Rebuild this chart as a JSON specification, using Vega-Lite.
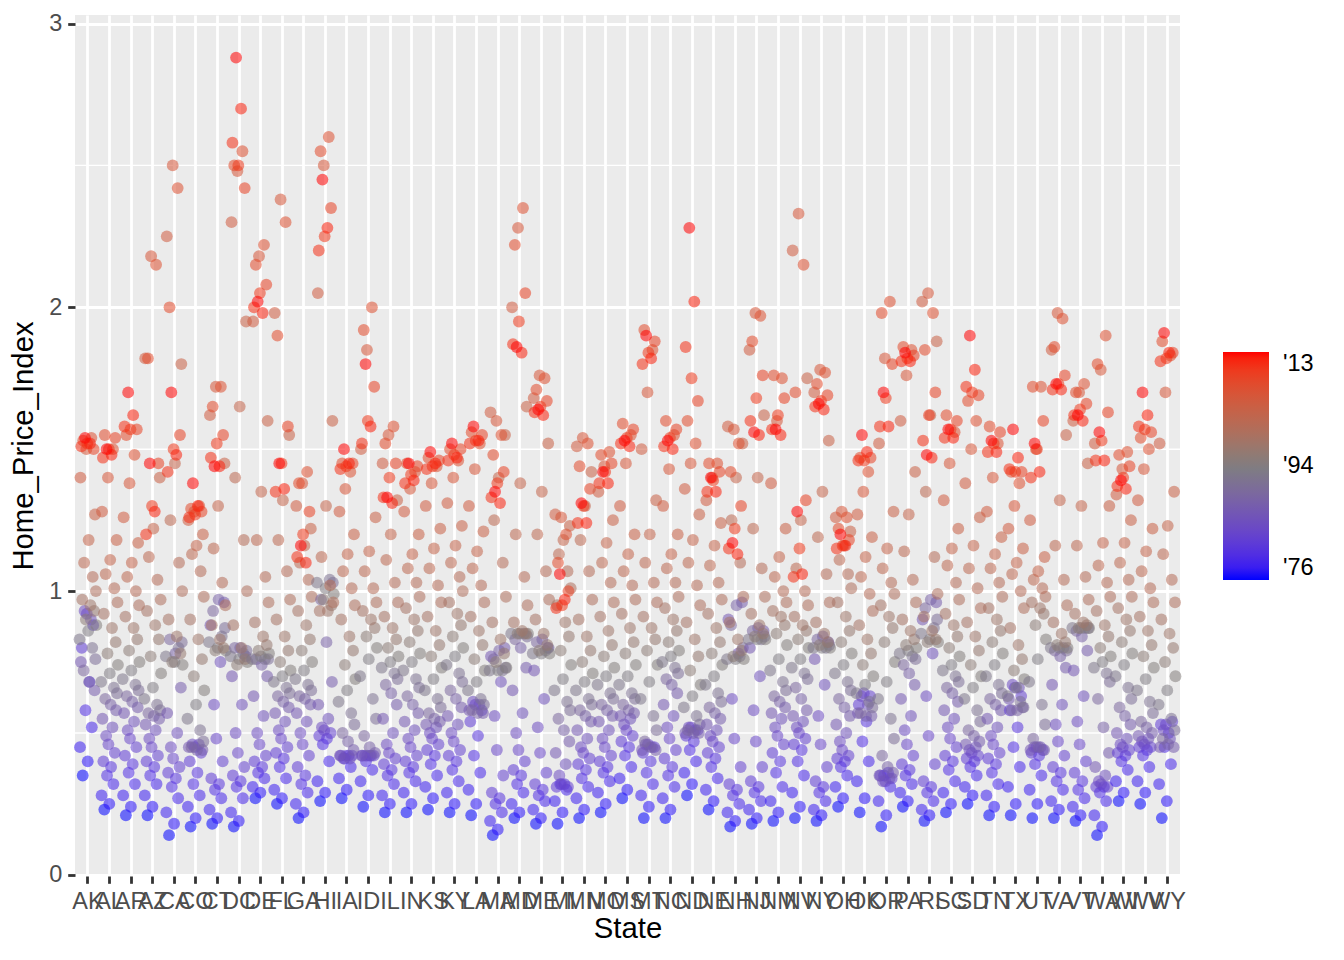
{
"$schema": "https://vega.github.io/schema/vega-lite/v6.json",
"autosize": {"type": "none"},
"padding": {"left": 75, "top": 15, "right": 164, "bottom": 84},
"width": 1105,
"height": 861,
"background": "white",
"config": {
  "view": {"fill": "#EBEBEB", "stroke": null},
  "font": "Liberation Sans",
  "axis": {"domain": false, "gridColor": "white", "gridWidth": 2.8, "tickColor": "#333333", "tickWidth": 2.8, "tickSize": 7.3, "labelColor": "#4D4D4D", "labelFontSize": 23.5, "labelFont": "Liberation Sans", "labelPadding": 5.9, "titleFont": "Liberation Sans", "titleFontSize": 29.3, "titleFontWeight": "normal", "titleColor": "black"},
  "legend": {"labelFontSize": 23.5, "labelColor": "black", "labelFont": "Liberation Sans", "labelOffset": 14, "gradientStrokeWidth": 0, "gradientLength": 228, "gradientThickness": 46}
},
"layer": [
  {
    "data": {"values": [{"g": 0.5}, {"g": 1.5}, {"g": 2.5}]},
    "mark": {"type": "rule", "color": "white", "strokeWidth": 1.4},
    "encoding": {
      "y": {"field": "g", "type": "quantitative", "scale": {"domain": [-0.004, 3.03], "nice": false, "zero": false}, "axis": {"title": "Home_Price_Index", "values": [0, 1, 2, 3], "grid": true, "titlePadding": 10}}
    }
  },
  {
    "data": {"values": [
{"s":"AK","t":1976,"v":0.35},{"s":"AK","t":1977,"v":0.40},{"s":"AK","t":1978,"v":0.45},{"s":"AK","t":1979,"v":0.52},{"s":"AK","t":1980,"v":0.58},{"s":"AK","t":1981,"v":0.68},{"s":"AK","t":1982,"v":0.80},{"s":"AK","t":1983,"v":0.88},{"s":"AK","t":1984,"v":0.92},{"s":"AK","t":1985,"v":0.93},{"s":"AK","t":1986,"v":0.90},{"s":"AK","t":1987,"v":0.75},{"s":"AK","t":1988,"v":0.65},{"s":"AK","t":1989,"v":0.68},{"s":"AK","t":1990,"v":0.72},{"s":"AK","t":1991,"v":0.76},{"s":"AK","t":1992,"v":0.80},{"s":"AK","t":1993,"v":0.83},{"s":"AK","t":1994,"v":0.86},{"s":"AK","t":1995,"v":0.88},{"s":"AK","t":1996,"v":0.90},{"s":"AK","t":1997,"v":0.93},{"s":"AK","t":1998,"v":0.95},{"s":"AK","t":1999,"v":0.97},{"s":"AK","t":2000,"v":1.00},{"s":"AK","t":2001,"v":1.05},{"s":"AK","t":2002,"v":1.10},{"s":"AK","t":2003,"v":1.18},{"s":"AK","t":2004,"v":1.27},{"s":"AK","t":2005,"v":1.40},{"s":"AK","t":2006,"v":1.50},{"s":"AK","t":2007,"v":1.54},{"s":"AK","t":2008,"v":1.53},{"s":"AK","t":2009,"v":1.50},{"s":"AK","t":2010,"v":1.52},{"s":"AK","t":2011,"v":1.51},{"s":"AK","t":2012,"v":1.52},{"s":"AK","t":2013,"v":1.54},
{"s":"AL","t":1976,"v":0.23},{"s":"AL","t":1977,"v":0.25},{"s":"AL","t":1978,"v":0.28},{"s":"AL","t":1979,"v":0.32},{"s":"AL","t":1980,"v":0.35},{"s":"AL","t":1981,"v":0.38},{"s":"AL","t":1982,"v":0.40},{"s":"AL","t":1983,"v":0.43},{"s":"AL","t":1984,"v":0.46},{"s":"AL","t":1985,"v":0.49},{"s":"AL","t":1986,"v":0.52},{"s":"AL","t":1987,"v":0.55},{"s":"AL","t":1988,"v":0.58},{"s":"AL","t":1989,"v":0.60},{"s":"AL","t":1990,"v":0.62},{"s":"AL","t":1991,"v":0.64},{"s":"AL","t":1992,"v":0.66},{"s":"AL","t":1993,"v":0.68},{"s":"AL","t":1994,"v":0.71},{"s":"AL","t":1995,"v":0.74},{"s":"AL","t":1996,"v":0.78},{"s":"AL","t":1997,"v":0.82},{"s":"AL","t":1998,"v":0.87},{"s":"AL","t":1999,"v":0.92},{"s":"AL","t":2000,"v":0.96},{"s":"AL","t":2001,"v":1.01},{"s":"AL","t":2002,"v":1.06},{"s":"AL","t":2003,"v":1.11},{"s":"AL","t":2004,"v":1.18},{"s":"AL","t":2005,"v":1.28},{"s":"AL","t":2006,"v":1.40},{"s":"AL","t":2007,"v":1.50},{"s":"AL","t":2008,"v":1.55},{"s":"AL","t":2009,"v":1.54},{"s":"AL","t":2010,"v":1.50},{"s":"AL","t":2011,"v":1.47},{"s":"AL","t":2012,"v":1.48},{"s":"AL","t":2013,"v":1.50},
{"s":"AR","t":1976,"v":0.21},{"s":"AR","t":1977,"v":0.24},{"s":"AR","t":1978,"v":0.28},{"s":"AR","t":1979,"v":0.32},{"s":"AR","t":1980,"v":0.36},{"s":"AR","t":1981,"v":0.39},{"s":"AR","t":1982,"v":0.42},{"s":"AR","t":1983,"v":0.45},{"s":"AR","t":1984,"v":0.48},{"s":"AR","t":1985,"v":0.51},{"s":"AR","t":1986,"v":0.54},{"s":"AR","t":1987,"v":0.57},{"s":"AR","t":1988,"v":0.59},{"s":"AR","t":1989,"v":0.61},{"s":"AR","t":1990,"v":0.63},{"s":"AR","t":1991,"v":0.65},{"s":"AR","t":1992,"v":0.67},{"s":"AR","t":1993,"v":0.69},{"s":"AR","t":1994,"v":0.72},{"s":"AR","t":1995,"v":0.75},{"s":"AR","t":1996,"v":0.79},{"s":"AR","t":1997,"v":0.83},{"s":"AR","t":1998,"v":0.87},{"s":"AR","t":1999,"v":0.91},{"s":"AR","t":2000,"v":0.95},{"s":"AR","t":2001,"v":1.00},{"s":"AR","t":2002,"v":1.05},{"s":"AR","t":2003,"v":1.10},{"s":"AR","t":2004,"v":1.17},{"s":"AR","t":2005,"v":1.26},{"s":"AR","t":2006,"v":1.38},{"s":"AR","t":2007,"v":1.48},{"s":"AR","t":2008,"v":1.55},{"s":"AR","t":2009,"v":1.57},{"s":"AR","t":2010,"v":1.57},{"s":"AR","t":2011,"v":1.58},{"s":"AR","t":2012,"v":1.62},{"s":"AR","t":2013,"v":1.70},
{"s":"AZ","t":1976,"v":0.21},{"s":"AZ","t":1977,"v":0.24},{"s":"AZ","t":1978,"v":0.28},{"s":"AZ","t":1979,"v":0.32},{"s":"AZ","t":1980,"v":0.35},{"s":"AZ","t":1981,"v":0.38},{"s":"AZ","t":1982,"v":0.40},{"s":"AZ","t":1983,"v":0.42},{"s":"AZ","t":1984,"v":0.45},{"s":"AZ","t":1985,"v":0.48},{"s":"AZ","t":1986,"v":0.51},{"s":"AZ","t":1987,"v":0.53},{"s":"AZ","t":1988,"v":0.55},{"s":"AZ","t":1989,"v":0.56},{"s":"AZ","t":1990,"v":0.57},{"s":"AZ","t":1991,"v":0.58},{"s":"AZ","t":1992,"v":0.60},{"s":"AZ","t":1993,"v":0.62},{"s":"AZ","t":1994,"v":0.66},{"s":"AZ","t":1995,"v":0.71},{"s":"AZ","t":1996,"v":0.77},{"s":"AZ","t":1997,"v":0.83},{"s":"AZ","t":1998,"v":0.88},{"s":"AZ","t":1999,"v":0.93},{"s":"AZ","t":2000,"v":0.97},{"s":"AZ","t":2001,"v":1.04},{"s":"AZ","t":2002,"v":1.12},{"s":"AZ","t":2003,"v":1.22},{"s":"AZ","t":2004,"v":1.40},{"s":"AZ","t":2005,"v":1.82},{"s":"AZ","t":2006,"v":2.18},{"s":"AZ","t":2007,"v":2.15},{"s":"AZ","t":2008,"v":1.82},{"s":"AZ","t":2009,"v":1.45},{"s":"AZ","t":2010,"v":1.30},{"s":"AZ","t":2011,"v":1.20},{"s":"AZ","t":2012,"v":1.28},{"s":"AZ","t":2013,"v":1.45},
{"s":"CA","t":1976,"v":0.14},{"s":"CA","t":1977,"v":0.18},{"s":"CA","t":1978,"v":0.22},{"s":"CA","t":1979,"v":0.27},{"s":"CA","t":1980,"v":0.31},{"s":"CA","t":1981,"v":0.34},{"s":"CA","t":1982,"v":0.36},{"s":"CA","t":1983,"v":0.38},{"s":"CA","t":1984,"v":0.41},{"s":"CA","t":1985,"v":0.45},{"s":"CA","t":1986,"v":0.50},{"s":"CA","t":1987,"v":0.57},{"s":"CA","t":1988,"v":0.66},{"s":"CA","t":1989,"v":0.78},{"s":"CA","t":1990,"v":0.83},{"s":"CA","t":1991,"v":0.82},{"s":"CA","t":1992,"v":0.80},{"s":"CA","t":1993,"v":0.77},{"s":"CA","t":1994,"v":0.75},{"s":"CA","t":1995,"v":0.74},{"s":"CA","t":1996,"v":0.75},{"s":"CA","t":1997,"v":0.78},{"s":"CA","t":1998,"v":0.84},{"s":"CA","t":1999,"v":0.90},{"s":"CA","t":2000,"v":1.00},{"s":"CA","t":2001,"v":1.10},{"s":"CA","t":2002,"v":1.25},{"s":"CA","t":2003,"v":1.45},{"s":"CA","t":2004,"v":1.80},{"s":"CA","t":2005,"v":2.25},{"s":"CA","t":2006,"v":2.50},{"s":"CA","t":2007,"v":2.42},{"s":"CA","t":2008,"v":2.00},{"s":"CA","t":2009,"v":1.55},{"s":"CA","t":2010,"v":1.50},{"s":"CA","t":2011,"v":1.42},{"s":"CA","t":2012,"v":1.48},{"s":"CA","t":2013,"v":1.70},
{"s":"CO","t":1976,"v":0.17},{"s":"CO","t":1977,"v":0.20},{"s":"CO","t":1978,"v":0.24},{"s":"CO","t":1979,"v":0.28},{"s":"CO","t":1980,"v":0.32},{"s":"CO","t":1981,"v":0.36},{"s":"CO","t":1982,"v":0.40},{"s":"CO","t":1983,"v":0.43},{"s":"CO","t":1984,"v":0.45},{"s":"CO","t":1985,"v":0.46},{"s":"CO","t":1986,"v":0.46},{"s":"CO","t":1987,"v":0.45},{"s":"CO","t":1988,"v":0.44},{"s":"CO","t":1989,"v":0.44},{"s":"CO","t":1990,"v":0.45},{"s":"CO","t":1991,"v":0.47},{"s":"CO","t":1992,"v":0.51},{"s":"CO","t":1993,"v":0.55},{"s":"CO","t":1994,"v":0.60},{"s":"CO","t":1995,"v":0.65},{"s":"CO","t":1996,"v":0.70},{"s":"CO","t":1997,"v":0.76},{"s":"CO","t":1998,"v":0.83},{"s":"CO","t":1999,"v":0.90},{"s":"CO","t":2000,"v":0.98},{"s":"CO","t":2001,"v":1.07},{"s":"CO","t":2002,"v":1.13},{"s":"CO","t":2003,"v":1.16},{"s":"CO","t":2004,"v":1.20},{"s":"CO","t":2005,"v":1.25},{"s":"CO","t":2006,"v":1.28},{"s":"CO","t":2007,"v":1.30},{"s":"CO","t":2008,"v":1.29},{"s":"CO","t":2009,"v":1.28},{"s":"CO","t":2010,"v":1.27},{"s":"CO","t":2011,"v":1.26},{"s":"CO","t":2012,"v":1.30},{"s":"CO","t":2013,"v":1.38},
{"s":"CT","t":1976,"v":0.18},{"s":"CT","t":1977,"v":0.20},{"s":"CT","t":1978,"v":0.23},{"s":"CT","t":1979,"v":0.27},{"s":"CT","t":1980,"v":0.30},{"s":"CT","t":1981,"v":0.32},{"s":"CT","t":1982,"v":0.34},{"s":"CT","t":1983,"v":0.40},{"s":"CT","t":1984,"v":0.48},{"s":"CT","t":1985,"v":0.60},{"s":"CT","t":1986,"v":0.75},{"s":"CT","t":1987,"v":0.88},{"s":"CT","t":1988,"v":0.96},{"s":"CT","t":1989,"v":0.97},{"s":"CT","t":1990,"v":0.93},{"s":"CT","t":1991,"v":0.87},{"s":"CT","t":1992,"v":0.84},{"s":"CT","t":1993,"v":0.82},{"s":"CT","t":1994,"v":0.80},{"s":"CT","t":1995,"v":0.79},{"s":"CT","t":1996,"v":0.79},{"s":"CT","t":1997,"v":0.80},{"s":"CT","t":1998,"v":0.83},{"s":"CT","t":1999,"v":0.88},{"s":"CT","t":2000,"v":0.95},{"s":"CT","t":2001,"v":1.03},{"s":"CT","t":2002,"v":1.15},{"s":"CT","t":2003,"v":1.30},{"s":"CT","t":2004,"v":1.45},{"s":"CT","t":2005,"v":1.62},{"s":"CT","t":2006,"v":1.72},{"s":"CT","t":2007,"v":1.72},{"s":"CT","t":2008,"v":1.65},{"s":"CT","t":2009,"v":1.55},{"s":"CT","t":2010,"v":1.52},{"s":"CT","t":2011,"v":1.47},{"s":"CT","t":2012,"v":1.44},{"s":"CT","t":2013,"v":1.44},
{"s":"DC","t":1976,"v":0.17},{"s":"DC","t":1977,"v":0.19},{"s":"DC","t":1978,"v":0.22},{"s":"DC","t":1979,"v":0.27},{"s":"DC","t":1980,"v":0.31},{"s":"DC","t":1981,"v":0.33},{"s":"DC","t":1982,"v":0.35},{"s":"DC","t":1983,"v":0.38},{"s":"DC","t":1984,"v":0.43},{"s":"DC","t":1985,"v":0.50},{"s":"DC","t":1986,"v":0.60},{"s":"DC","t":1987,"v":0.70},{"s":"DC","t":1988,"v":0.77},{"s":"DC","t":1989,"v":0.80},{"s":"DC","t":1990,"v":0.80},{"s":"DC","t":1991,"v":0.79},{"s":"DC","t":1992,"v":0.78},{"s":"DC","t":1993,"v":0.77},{"s":"DC","t":1994,"v":0.76},{"s":"DC","t":1995,"v":0.75},{"s":"DC","t":1996,"v":0.74},{"s":"DC","t":1997,"v":0.76},{"s":"DC","t":1998,"v":0.80},{"s":"DC","t":1999,"v":0.88},{"s":"DC","t":2000,"v":1.00},{"s":"DC","t":2001,"v":1.18},{"s":"DC","t":2002,"v":1.40},{"s":"DC","t":2003,"v":1.65},{"s":"DC","t":2004,"v":1.95},{"s":"DC","t":2005,"v":2.30},{"s":"DC","t":2006,"v":2.48},{"s":"DC","t":2007,"v":2.55},{"s":"DC","t":2008,"v":2.50},{"s":"DC","t":2009,"v":2.42},{"s":"DC","t":2010,"v":2.50},{"s":"DC","t":2011,"v":2.58},{"s":"DC","t":2012,"v":2.70},{"s":"DC","t":2013,"v":2.88},
{"s":"DE","t":1976,"v":0.27},{"s":"DE","t":1977,"v":0.29},{"s":"DE","t":1978,"v":0.31},{"s":"DE","t":1979,"v":0.34},{"s":"DE","t":1980,"v":0.36},{"s":"DE","t":1981,"v":0.38},{"s":"DE","t":1982,"v":0.40},{"s":"DE","t":1983,"v":0.42},{"s":"DE","t":1984,"v":0.46},{"s":"DE","t":1985,"v":0.50},{"s":"DE","t":1986,"v":0.56},{"s":"DE","t":1987,"v":0.63},{"s":"DE","t":1988,"v":0.70},{"s":"DE","t":1989,"v":0.74},{"s":"DE","t":1990,"v":0.76},{"s":"DE","t":1991,"v":0.76},{"s":"DE","t":1992,"v":0.76},{"s":"DE","t":1993,"v":0.76},{"s":"DE","t":1994,"v":0.77},{"s":"DE","t":1995,"v":0.78},{"s":"DE","t":1996,"v":0.79},{"s":"DE","t":1997,"v":0.81},{"s":"DE","t":1998,"v":0.84},{"s":"DE","t":1999,"v":0.89},{"s":"DE","t":2000,"v":0.96},{"s":"DE","t":2001,"v":1.05},{"s":"DE","t":2002,"v":1.18},{"s":"DE","t":2003,"v":1.35},{"s":"DE","t":2004,"v":1.60},{"s":"DE","t":2005,"v":1.95},{"s":"DE","t":2006,"v":2.18},{"s":"DE","t":2007,"v":2.22},{"s":"DE","t":2008,"v":2.15},{"s":"DE","t":2009,"v":2.08},{"s":"DE","t":2010,"v":2.05},{"s":"DE","t":2011,"v":2.00},{"s":"DE","t":2012,"v":1.98},{"s":"DE","t":2013,"v":2.02},
{"s":"FL","t":1976,"v":0.25},{"s":"FL","t":1977,"v":0.27},{"s":"FL","t":1978,"v":0.30},{"s":"FL","t":1979,"v":0.34},{"s":"FL","t":1980,"v":0.38},{"s":"FL","t":1981,"v":0.41},{"s":"FL","t":1982,"v":0.43},{"s":"FL","t":1983,"v":0.45},{"s":"FL","t":1984,"v":0.48},{"s":"FL","t":1985,"v":0.51},{"s":"FL","t":1986,"v":0.54},{"s":"FL","t":1987,"v":0.57},{"s":"FL","t":1988,"v":0.59},{"s":"FL","t":1989,"v":0.61},{"s":"FL","t":1990,"v":0.63},{"s":"FL","t":1991,"v":0.64},{"s":"FL","t":1992,"v":0.66},{"s":"FL","t":1993,"v":0.68},{"s":"FL","t":1994,"v":0.70},{"s":"FL","t":1995,"v":0.72},{"s":"FL","t":1996,"v":0.75},{"s":"FL","t":1997,"v":0.79},{"s":"FL","t":1998,"v":0.84},{"s":"FL","t":1999,"v":0.90},{"s":"FL","t":2000,"v":0.97},{"s":"FL","t":2001,"v":1.07},{"s":"FL","t":2002,"v":1.18},{"s":"FL","t":2003,"v":1.32},{"s":"FL","t":2004,"v":1.55},{"s":"FL","t":2005,"v":1.98},{"s":"FL","t":2006,"v":2.38},{"s":"FL","t":2007,"v":2.30},{"s":"FL","t":2008,"v":1.90},{"s":"FL","t":2009,"v":1.58},{"s":"FL","t":2010,"v":1.45},{"s":"FL","t":2011,"v":1.35},{"s":"FL","t":2012,"v":1.36},{"s":"FL","t":2013,"v":1.45},
{"s":"GA","t":1976,"v":0.20},{"s":"GA","t":1977,"v":0.22},{"s":"GA","t":1978,"v":0.25},{"s":"GA","t":1979,"v":0.29},{"s":"GA","t":1980,"v":0.32},{"s":"GA","t":1981,"v":0.35},{"s":"GA","t":1982,"v":0.38},{"s":"GA","t":1983,"v":0.42},{"s":"GA","t":1984,"v":0.46},{"s":"GA","t":1985,"v":0.50},{"s":"GA","t":1986,"v":0.54},{"s":"GA","t":1987,"v":0.57},{"s":"GA","t":1988,"v":0.60},{"s":"GA","t":1989,"v":0.62},{"s":"GA","t":1990,"v":0.63},{"s":"GA","t":1991,"v":0.65},{"s":"GA","t":1992,"v":0.67},{"s":"GA","t":1993,"v":0.69},{"s":"GA","t":1994,"v":0.72},{"s":"GA","t":1995,"v":0.75},{"s":"GA","t":1996,"v":0.79},{"s":"GA","t":1997,"v":0.83},{"s":"GA","t":1998,"v":0.88},{"s":"GA","t":1999,"v":0.93},{"s":"GA","t":2000,"v":0.98},{"s":"GA","t":2001,"v":1.04},{"s":"GA","t":2002,"v":1.10},{"s":"GA","t":2003,"v":1.16},{"s":"GA","t":2004,"v":1.22},{"s":"GA","t":2005,"v":1.30},{"s":"GA","t":2006,"v":1.38},{"s":"GA","t":2007,"v":1.42},{"s":"GA","t":2008,"v":1.38},{"s":"GA","t":2009,"v":1.28},{"s":"GA","t":2010,"v":1.20},{"s":"GA","t":2011,"v":1.12},{"s":"GA","t":2012,"v":1.10},{"s":"GA","t":2013,"v":1.16},
{"s":"HI","t":1976,"v":0.26},{"s":"HI","t":1977,"v":0.29},{"s":"HI","t":1978,"v":0.33},{"s":"HI","t":1979,"v":0.40},{"s":"HI","t":1980,"v":0.46},{"s":"HI","t":1981,"v":0.48},{"s":"HI","t":1982,"v":0.49},{"s":"HI","t":1983,"v":0.50},{"s":"HI","t":1984,"v":0.51},{"s":"HI","t":1985,"v":0.52},{"s":"HI","t":1986,"v":0.55},{"s":"HI","t":1987,"v":0.60},{"s":"HI","t":1988,"v":0.68},{"s":"HI","t":1989,"v":0.82},{"s":"HI","t":1990,"v":0.97},{"s":"HI","t":1991,"v":1.03},{"s":"HI","t":1992,"v":1.04},{"s":"HI","t":1993,"v":1.03},{"s":"HI","t":1994,"v":1.01},{"s":"HI","t":1995,"v":0.99},{"s":"HI","t":1996,"v":0.97},{"s":"HI","t":1997,"v":0.95},{"s":"HI","t":1998,"v":0.93},{"s":"HI","t":1999,"v":0.93},{"s":"HI","t":2000,"v":0.96},{"s":"HI","t":2001,"v":1.02},{"s":"HI","t":2002,"v":1.12},{"s":"HI","t":2003,"v":1.30},{"s":"HI","t":2004,"v":1.60},{"s":"HI","t":2005,"v":2.05},{"s":"HI","t":2006,"v":2.50},{"s":"HI","t":2007,"v":2.60},{"s":"HI","t":2008,"v":2.55},{"s":"HI","t":2009,"v":2.35},{"s":"HI","t":2010,"v":2.25},{"s":"HI","t":2011,"v":2.20},{"s":"HI","t":2012,"v":2.28},{"s":"HI","t":2013,"v":2.45},
{"s":"IA","t":1976,"v":0.27},{"s":"IA","t":1977,"v":0.30},{"s":"IA","t":1978,"v":0.34},{"s":"IA","t":1979,"v":0.38},{"s":"IA","t":1980,"v":0.41},{"s":"IA","t":1981,"v":0.42},{"s":"IA","t":1982,"v":0.42},{"s":"IA","t":1983,"v":0.42},{"s":"IA","t":1984,"v":0.42},{"s":"IA","t":1985,"v":0.41},{"s":"IA","t":1986,"v":0.41},{"s":"IA","t":1987,"v":0.42},{"s":"IA","t":1988,"v":0.44},{"s":"IA","t":1989,"v":0.47},{"s":"IA","t":1990,"v":0.50},{"s":"IA","t":1991,"v":0.53},{"s":"IA","t":1992,"v":0.57},{"s":"IA","t":1993,"v":0.61},{"s":"IA","t":1994,"v":0.65},{"s":"IA","t":1995,"v":0.69},{"s":"IA","t":1996,"v":0.74},{"s":"IA","t":1997,"v":0.79},{"s":"IA","t":1998,"v":0.84},{"s":"IA","t":1999,"v":0.90},{"s":"IA","t":2000,"v":0.95},{"s":"IA","t":2001,"v":1.01},{"s":"IA","t":2002,"v":1.07},{"s":"IA","t":2003,"v":1.13},{"s":"IA","t":2004,"v":1.20},{"s":"IA","t":2005,"v":1.28},{"s":"IA","t":2006,"v":1.36},{"s":"IA","t":2007,"v":1.42},{"s":"IA","t":2008,"v":1.45},{"s":"IA","t":2009,"v":1.45},{"s":"IA","t":2010,"v":1.44},{"s":"IA","t":2011,"v":1.43},{"s":"IA","t":2012,"v":1.45},{"s":"IA","t":2013,"v":1.50},
{"s":"ID","t":1976,"v":0.24},{"s":"ID","t":1977,"v":0.28},{"s":"ID","t":1978,"v":0.33},{"s":"ID","t":1979,"v":0.37},{"s":"ID","t":1980,"v":0.40},{"s":"ID","t":1981,"v":0.42},{"s":"ID","t":1982,"v":0.42},{"s":"ID","t":1983,"v":0.42},{"s":"ID","t":1984,"v":0.42},{"s":"ID","t":1985,"v":0.42},{"s":"ID","t":1986,"v":0.42},{"s":"ID","t":1987,"v":0.42},{"s":"ID","t":1988,"v":0.43},{"s":"ID","t":1989,"v":0.45},{"s":"ID","t":1990,"v":0.49},{"s":"ID","t":1991,"v":0.55},{"s":"ID","t":1992,"v":0.62},{"s":"ID","t":1993,"v":0.70},{"s":"ID","t":1994,"v":0.76},{"s":"ID","t":1995,"v":0.80},{"s":"ID","t":1996,"v":0.84},{"s":"ID","t":1997,"v":0.87},{"s":"ID","t":1998,"v":0.90},{"s":"ID","t":1999,"v":0.93},{"s":"ID","t":2000,"v":0.96},{"s":"ID","t":2001,"v":1.01},{"s":"ID","t":2002,"v":1.07},{"s":"ID","t":2003,"v":1.14},{"s":"ID","t":2004,"v":1.26},{"s":"ID","t":2005,"v":1.50},{"s":"ID","t":2006,"v":1.85},{"s":"ID","t":2007,"v":2.00},{"s":"ID","t":2008,"v":1.92},{"s":"ID","t":2009,"v":1.72},{"s":"ID","t":2010,"v":1.60},{"s":"ID","t":2011,"v":1.52},{"s":"ID","t":2012,"v":1.58},{"s":"ID","t":2013,"v":1.80},
{"s":"IL","t":1976,"v":0.22},{"s":"IL","t":1977,"v":0.25},{"s":"IL","t":1978,"v":0.28},{"s":"IL","t":1979,"v":0.32},{"s":"IL","t":1980,"v":0.35},{"s":"IL","t":1981,"v":0.37},{"s":"IL","t":1982,"v":0.39},{"s":"IL","t":1983,"v":0.41},{"s":"IL","t":1984,"v":0.43},{"s":"IL","t":1985,"v":0.46},{"s":"IL","t":1986,"v":0.50},{"s":"IL","t":1987,"v":0.55},{"s":"IL","t":1988,"v":0.60},{"s":"IL","t":1989,"v":0.64},{"s":"IL","t":1990,"v":0.67},{"s":"IL","t":1991,"v":0.69},{"s":"IL","t":1992,"v":0.71},{"s":"IL","t":1993,"v":0.73},{"s":"IL","t":1994,"v":0.75},{"s":"IL","t":1995,"v":0.77},{"s":"IL","t":1996,"v":0.80},{"s":"IL","t":1997,"v":0.83},{"s":"IL","t":1998,"v":0.87},{"s":"IL","t":1999,"v":0.91},{"s":"IL","t":2000,"v":0.96},{"s":"IL","t":2001,"v":1.03},{"s":"IL","t":2002,"v":1.11},{"s":"IL","t":2003,"v":1.20},{"s":"IL","t":2004,"v":1.32},{"s":"IL","t":2005,"v":1.45},{"s":"IL","t":2006,"v":1.55},{"s":"IL","t":2007,"v":1.58},{"s":"IL","t":2008,"v":1.52},{"s":"IL","t":2009,"v":1.45},{"s":"IL","t":2010,"v":1.40},{"s":"IL","t":2011,"v":1.33},{"s":"IL","t":2012,"v":1.31},{"s":"IL","t":2013,"v":1.33},
{"s":"IN","t":1976,"v":0.22},{"s":"IN","t":1977,"v":0.25},{"s":"IN","t":1978,"v":0.29},{"s":"IN","t":1979,"v":0.33},{"s":"IN","t":1980,"v":0.36},{"s":"IN","t":1981,"v":0.38},{"s":"IN","t":1982,"v":0.40},{"s":"IN","t":1983,"v":0.42},{"s":"IN","t":1984,"v":0.45},{"s":"IN","t":1985,"v":0.48},{"s":"IN","t":1986,"v":0.51},{"s":"IN","t":1987,"v":0.54},{"s":"IN","t":1988,"v":0.57},{"s":"IN","t":1989,"v":0.60},{"s":"IN","t":1990,"v":0.63},{"s":"IN","t":1991,"v":0.66},{"s":"IN","t":1992,"v":0.69},{"s":"IN","t":1993,"v":0.72},{"s":"IN","t":1994,"v":0.75},{"s":"IN","t":1995,"v":0.78},{"s":"IN","t":1996,"v":0.82},{"s":"IN","t":1997,"v":0.86},{"s":"IN","t":1998,"v":0.90},{"s":"IN","t":1999,"v":0.94},{"s":"IN","t":2000,"v":0.98},{"s":"IN","t":2001,"v":1.03},{"s":"IN","t":2002,"v":1.08},{"s":"IN","t":2003,"v":1.13},{"s":"IN","t":2004,"v":1.20},{"s":"IN","t":2005,"v":1.28},{"s":"IN","t":2006,"v":1.36},{"s":"IN","t":2007,"v":1.42},{"s":"IN","t":2008,"v":1.45},{"s":"IN","t":2009,"v":1.44},{"s":"IN","t":2010,"v":1.41},{"s":"IN","t":2011,"v":1.38},{"s":"IN","t":2012,"v":1.39},{"s":"IN","t":2013,"v":1.45},
{"s":"KS","t":1976,"v":0.23},{"s":"KS","t":1977,"v":0.27},{"s":"KS","t":1978,"v":0.31},{"s":"KS","t":1979,"v":0.35},{"s":"KS","t":1980,"v":0.39},{"s":"KS","t":1981,"v":0.42},{"s":"KS","t":1982,"v":0.44},{"s":"KS","t":1983,"v":0.46},{"s":"KS","t":1984,"v":0.48},{"s":"KS","t":1985,"v":0.50},{"s":"KS","t":1986,"v":0.52},{"s":"KS","t":1987,"v":0.53},{"s":"KS","t":1988,"v":0.54},{"s":"KS","t":1989,"v":0.55},{"s":"KS","t":1990,"v":0.57},{"s":"KS","t":1991,"v":0.59},{"s":"KS","t":1992,"v":0.62},{"s":"KS","t":1993,"v":0.65},{"s":"KS","t":1994,"v":0.69},{"s":"KS","t":1995,"v":0.73},{"s":"KS","t":1996,"v":0.77},{"s":"KS","t":1997,"v":0.81},{"s":"KS","t":1998,"v":0.86},{"s":"KS","t":1999,"v":0.91},{"s":"KS","t":2000,"v":0.96},{"s":"KS","t":2001,"v":1.02},{"s":"KS","t":2002,"v":1.08},{"s":"KS","t":2003,"v":1.15},{"s":"KS","t":2004,"v":1.22},{"s":"KS","t":2005,"v":1.30},{"s":"KS","t":2006,"v":1.38},{"s":"KS","t":2007,"v":1.44},{"s":"KS","t":2008,"v":1.47},{"s":"KS","t":2009,"v":1.46},{"s":"KS","t":2010,"v":1.44},{"s":"KS","t":2011,"v":1.43},{"s":"KS","t":2012,"v":1.45},{"s":"KS","t":2013,"v":1.49},
{"s":"KY","t":1976,"v":0.22},{"s":"KY","t":1977,"v":0.25},{"s":"KY","t":1978,"v":0.29},{"s":"KY","t":1979,"v":0.33},{"s":"KY","t":1980,"v":0.37},{"s":"KY","t":1981,"v":0.40},{"s":"KY","t":1982,"v":0.42},{"s":"KY","t":1983,"v":0.44},{"s":"KY","t":1984,"v":0.47},{"s":"KY","t":1985,"v":0.50},{"s":"KY","t":1986,"v":0.53},{"s":"KY","t":1987,"v":0.56},{"s":"KY","t":1988,"v":0.59},{"s":"KY","t":1989,"v":0.62},{"s":"KY","t":1990,"v":0.65},{"s":"KY","t":1991,"v":0.68},{"s":"KY","t":1992,"v":0.71},{"s":"KY","t":1993,"v":0.74},{"s":"KY","t":1994,"v":0.77},{"s":"KY","t":1995,"v":0.80},{"s":"KY","t":1996,"v":0.84},{"s":"KY","t":1997,"v":0.88},{"s":"KY","t":1998,"v":0.92},{"s":"KY","t":1999,"v":0.96},{"s":"KY","t":2000,"v":1.00},{"s":"KY","t":2001,"v":1.05},{"s":"KY","t":2002,"v":1.10},{"s":"KY","t":2003,"v":1.16},{"s":"KY","t":2004,"v":1.23},{"s":"KY","t":2005,"v":1.31},{"s":"KY","t":2006,"v":1.40},{"s":"KY","t":2007,"v":1.46},{"s":"KY","t":2008,"v":1.50},{"s":"KY","t":2009,"v":1.50},{"s":"KY","t":2010,"v":1.48},{"s":"KY","t":2011,"v":1.46},{"s":"KY","t":2012,"v":1.47},{"s":"KY","t":2013,"v":1.52},
{"s":"LA","t":1976,"v":0.21},{"s":"LA","t":1977,"v":0.25},{"s":"LA","t":1978,"v":0.30},{"s":"LA","t":1979,"v":0.36},{"s":"LA","t":1980,"v":0.42},{"s":"LA","t":1981,"v":0.49},{"s":"LA","t":1982,"v":0.54},{"s":"LA","t":1983,"v":0.58},{"s":"LA","t":1984,"v":0.60},{"s":"LA","t":1985,"v":0.61},{"s":"LA","t":1986,"v":0.60},{"s":"LA","t":1987,"v":0.58},{"s":"LA","t":1988,"v":0.57},{"s":"LA","t":1989,"v":0.57},{"s":"LA","t":1990,"v":0.58},{"s":"LA","t":1991,"v":0.60},{"s":"LA","t":1992,"v":0.62},{"s":"LA","t":1993,"v":0.65},{"s":"LA","t":1994,"v":0.68},{"s":"LA","t":1995,"v":0.72},{"s":"LA","t":1996,"v":0.76},{"s":"LA","t":1997,"v":0.81},{"s":"LA","t":1998,"v":0.86},{"s":"LA","t":1999,"v":0.91},{"s":"LA","t":2000,"v":0.96},{"s":"LA","t":2001,"v":1.02},{"s":"LA","t":2002,"v":1.08},{"s":"LA","t":2003,"v":1.14},{"s":"LA","t":2004,"v":1.21},{"s":"LA","t":2005,"v":1.30},{"s":"LA","t":2006,"v":1.43},{"s":"LA","t":2007,"v":1.52},{"s":"LA","t":2008,"v":1.56},{"s":"LA","t":2009,"v":1.55},{"s":"LA","t":2010,"v":1.53},{"s":"LA","t":2011,"v":1.52},{"s":"LA","t":2012,"v":1.53},{"s":"LA","t":2013,"v":1.58},
{"s":"MA","t":1976,"v":0.14},{"s":"MA","t":1977,"v":0.16},{"s":"MA","t":1978,"v":0.19},{"s":"MA","t":1979,"v":0.22},{"s":"MA","t":1980,"v":0.25},{"s":"MA","t":1981,"v":0.27},{"s":"MA","t":1982,"v":0.29},{"s":"MA","t":1983,"v":0.35},{"s":"MA","t":1984,"v":0.44},{"s":"MA","t":1985,"v":0.56},{"s":"MA","t":1986,"v":0.68},{"s":"MA","t":1987,"v":0.77},{"s":"MA","t":1988,"v":0.80},{"s":"MA","t":1989,"v":0.79},{"s":"MA","t":1990,"v":0.76},{"s":"MA","t":1991,"v":0.73},{"s":"MA","t":1992,"v":0.72},{"s":"MA","t":1993,"v":0.72},{"s":"MA","t":1994,"v":0.72},{"s":"MA","t":1995,"v":0.73},{"s":"MA","t":1996,"v":0.75},{"s":"MA","t":1997,"v":0.78},{"s":"MA","t":1998,"v":0.83},{"s":"MA","t":1999,"v":0.89},{"s":"MA","t":2000,"v":0.98},{"s":"MA","t":2001,"v":1.10},{"s":"MA","t":2002,"v":1.25},{"s":"MA","t":2003,"v":1.40},{"s":"MA","t":2004,"v":1.55},{"s":"MA","t":2005,"v":1.63},{"s":"MA","t":2006,"v":1.60},{"s":"MA","t":2007,"v":1.55},{"s":"MA","t":2008,"v":1.48},{"s":"MA","t":2009,"v":1.42},{"s":"MA","t":2010,"v":1.38},{"s":"MA","t":2011,"v":1.33},{"s":"MA","t":2012,"v":1.31},{"s":"MA","t":2013,"v":1.35},
{"s":"MD","t":1976,"v":0.20},{"s":"MD","t":1977,"v":0.22},{"s":"MD","t":1978,"v":0.25},{"s":"MD","t":1979,"v":0.29},{"s":"MD","t":1980,"v":0.32},{"s":"MD","t":1981,"v":0.35},{"s":"MD","t":1982,"v":0.37},{"s":"MD","t":1983,"v":0.40},{"s":"MD","t":1984,"v":0.44},{"s":"MD","t":1985,"v":0.50},{"s":"MD","t":1986,"v":0.57},{"s":"MD","t":1987,"v":0.65},{"s":"MD","t":1988,"v":0.73},{"s":"MD","t":1989,"v":0.80},{"s":"MD","t":1990,"v":0.83},{"s":"MD","t":1991,"v":0.84},{"s":"MD","t":1992,"v":0.85},{"s":"MD","t":1993,"v":0.85},{"s":"MD","t":1994,"v":0.85},{"s":"MD","t":1995,"v":0.85},{"s":"MD","t":1996,"v":0.85},{"s":"MD","t":1997,"v":0.85},{"s":"MD","t":1998,"v":0.86},{"s":"MD","t":1999,"v":0.89},{"s":"MD","t":2000,"v":0.95},{"s":"MD","t":2001,"v":1.05},{"s":"MD","t":2002,"v":1.20},{"s":"MD","t":2003,"v":1.38},{"s":"MD","t":2004,"v":1.65},{"s":"MD","t":2005,"v":2.00},{"s":"MD","t":2006,"v":2.28},{"s":"MD","t":2007,"v":2.35},{"s":"MD","t":2008,"v":2.22},{"s":"MD","t":2009,"v":2.05},{"s":"MD","t":2010,"v":1.95},{"s":"MD","t":2011,"v":1.87},{"s":"MD","t":2012,"v":1.84},{"s":"MD","t":2013,"v":1.86},
{"s":"ME","t":1976,"v":0.18},{"s":"ME","t":1977,"v":0.20},{"s":"ME","t":1978,"v":0.23},{"s":"ME","t":1979,"v":0.26},{"s":"ME","t":1980,"v":0.28},{"s":"ME","t":1981,"v":0.30},{"s":"ME","t":1982,"v":0.32},{"s":"ME","t":1983,"v":0.36},{"s":"ME","t":1984,"v":0.43},{"s":"ME","t":1985,"v":0.52},{"s":"ME","t":1986,"v":0.62},{"s":"ME","t":1987,"v":0.72},{"s":"ME","t":1988,"v":0.80},{"s":"ME","t":1989,"v":0.83},{"s":"ME","t":1990,"v":0.82},{"s":"ME","t":1991,"v":0.80},{"s":"ME","t":1992,"v":0.79},{"s":"ME","t":1993,"v":0.78},{"s":"ME","t":1994,"v":0.78},{"s":"ME","t":1995,"v":0.78},{"s":"ME","t":1996,"v":0.79},{"s":"ME","t":1997,"v":0.81},{"s":"ME","t":1998,"v":0.85},{"s":"ME","t":1999,"v":0.90},{"s":"ME","t":2000,"v":0.97},{"s":"ME","t":2001,"v":1.07},{"s":"ME","t":2002,"v":1.20},{"s":"ME","t":2003,"v":1.35},{"s":"ME","t":2004,"v":1.52},{"s":"ME","t":2005,"v":1.68},{"s":"ME","t":2006,"v":1.76},{"s":"ME","t":2007,"v":1.75},{"s":"ME","t":2008,"v":1.71},{"s":"ME","t":2009,"v":1.67},{"s":"ME","t":2010,"v":1.65},{"s":"ME","t":2011,"v":1.63},{"s":"ME","t":2012,"v":1.62},{"s":"ME","t":2013,"v":1.64},
{"s":"MI","t":1976,"v":0.18},{"s":"MI","t":1977,"v":0.22},{"s":"MI","t":1978,"v":0.26},{"s":"MI","t":1979,"v":0.30},{"s":"MI","t":1980,"v":0.32},{"s":"MI","t":1981,"v":0.32},{"s":"MI","t":1982,"v":0.31},{"s":"MI","t":1983,"v":0.31},{"s":"MI","t":1984,"v":0.32},{"s":"MI","t":1985,"v":0.35},{"s":"MI","t":1986,"v":0.39},{"s":"MI","t":1987,"v":0.43},{"s":"MI","t":1988,"v":0.47},{"s":"MI","t":1989,"v":0.51},{"s":"MI","t":1990,"v":0.55},{"s":"MI","t":1991,"v":0.58},{"s":"MI","t":1992,"v":0.61},{"s":"MI","t":1993,"v":0.65},{"s":"MI","t":1994,"v":0.69},{"s":"MI","t":1995,"v":0.74},{"s":"MI","t":1996,"v":0.79},{"s":"MI","t":1997,"v":0.84},{"s":"MI","t":1998,"v":0.89},{"s":"MI","t":1999,"v":0.95},{"s":"MI","t":2000,"v":1.01},{"s":"MI","t":2001,"v":1.07},{"s":"MI","t":2002,"v":1.13},{"s":"MI","t":2003,"v":1.18},{"s":"MI","t":2004,"v":1.23},{"s":"MI","t":2005,"v":1.27},{"s":"MI","t":2006,"v":1.26},{"s":"MI","t":2007,"v":1.20},{"s":"MI","t":2008,"v":1.10},{"s":"MI","t":2009,"v":1.00},{"s":"MI","t":2010,"v":0.95},{"s":"MI","t":2011,"v":0.94},{"s":"MI","t":2012,"v":0.97},{"s":"MI","t":2013,"v":1.06},
{"s":"MN","t":1976,"v":0.20},{"s":"MN","t":1977,"v":0.23},{"s":"MN","t":1978,"v":0.27},{"s":"MN","t":1979,"v":0.31},{"s":"MN","t":1980,"v":0.34},{"s":"MN","t":1981,"v":0.37},{"s":"MN","t":1982,"v":0.39},{"s":"MN","t":1983,"v":0.41},{"s":"MN","t":1984,"v":0.43},{"s":"MN","t":1985,"v":0.45},{"s":"MN","t":1986,"v":0.48},{"s":"MN","t":1987,"v":0.51},{"s":"MN","t":1988,"v":0.54},{"s":"MN","t":1989,"v":0.56},{"s":"MN","t":1990,"v":0.58},{"s":"MN","t":1991,"v":0.60},{"s":"MN","t":1992,"v":0.62},{"s":"MN","t":1993,"v":0.65},{"s":"MN","t":1994,"v":0.68},{"s":"MN","t":1995,"v":0.71},{"s":"MN","t":1996,"v":0.75},{"s":"MN","t":1997,"v":0.79},{"s":"MN","t":1998,"v":0.84},{"s":"MN","t":1999,"v":0.90},{"s":"MN","t":2000,"v":0.97},{"s":"MN","t":2001,"v":1.07},{"s":"MN","t":2002,"v":1.18},{"s":"MN","t":2003,"v":1.30},{"s":"MN","t":2004,"v":1.42},{"s":"MN","t":2005,"v":1.51},{"s":"MN","t":2006,"v":1.54},{"s":"MN","t":2007,"v":1.52},{"s":"MN","t":2008,"v":1.44},{"s":"MN","t":2009,"v":1.36},{"s":"MN","t":2010,"v":1.30},{"s":"MN","t":2011,"v":1.24},{"s":"MN","t":2012,"v":1.24},{"s":"MN","t":2013,"v":1.31},
{"s":"MO","t":1976,"v":0.22},{"s":"MO","t":1977,"v":0.25},{"s":"MO","t":1978,"v":0.29},{"s":"MO","t":1979,"v":0.33},{"s":"MO","t":1980,"v":0.36},{"s":"MO","t":1981,"v":0.38},{"s":"MO","t":1982,"v":0.40},{"s":"MO","t":1983,"v":0.42},{"s":"MO","t":1984,"v":0.45},{"s":"MO","t":1985,"v":0.48},{"s":"MO","t":1986,"v":0.51},{"s":"MO","t":1987,"v":0.54},{"s":"MO","t":1988,"v":0.56},{"s":"MO","t":1989,"v":0.58},{"s":"MO","t":1990,"v":0.60},{"s":"MO","t":1991,"v":0.62},{"s":"MO","t":1992,"v":0.64},{"s":"MO","t":1993,"v":0.67},{"s":"MO","t":1994,"v":0.70},{"s":"MO","t":1995,"v":0.73},{"s":"MO","t":1996,"v":0.77},{"s":"MO","t":1997,"v":0.81},{"s":"MO","t":1998,"v":0.86},{"s":"MO","t":1999,"v":0.91},{"s":"MO","t":2000,"v":0.96},{"s":"MO","t":2001,"v":1.03},{"s":"MO","t":2002,"v":1.10},{"s":"MO","t":2003,"v":1.17},{"s":"MO","t":2004,"v":1.25},{"s":"MO","t":2005,"v":1.35},{"s":"MO","t":2006,"v":1.44},{"s":"MO","t":2007,"v":1.49},{"s":"MO","t":2008,"v":1.48},{"s":"MO","t":2009,"v":1.45},{"s":"MO","t":2010,"v":1.42},{"s":"MO","t":2011,"v":1.38},{"s":"MO","t":2012,"v":1.38},{"s":"MO","t":2013,"v":1.42},
{"s":"MS","t":1976,"v":0.27},{"s":"MS","t":1977,"v":0.30},{"s":"MS","t":1978,"v":0.34},{"s":"MS","t":1979,"v":0.38},{"s":"MS","t":1980,"v":0.42},{"s":"MS","t":1981,"v":0.45},{"s":"MS","t":1982,"v":0.47},{"s":"MS","t":1983,"v":0.49},{"s":"MS","t":1984,"v":0.51},{"s":"MS","t":1985,"v":0.53},{"s":"MS","t":1986,"v":0.55},{"s":"MS","t":1987,"v":0.56},{"s":"MS","t":1988,"v":0.57},{"s":"MS","t":1989,"v":0.58},{"s":"MS","t":1990,"v":0.60},{"s":"MS","t":1991,"v":0.62},{"s":"MS","t":1992,"v":0.64},{"s":"MS","t":1993,"v":0.67},{"s":"MS","t":1994,"v":0.70},{"s":"MS","t":1995,"v":0.74},{"s":"MS","t":1996,"v":0.78},{"s":"MS","t":1997,"v":0.82},{"s":"MS","t":1998,"v":0.87},{"s":"MS","t":1999,"v":0.92},{"s":"MS","t":2000,"v":0.97},{"s":"MS","t":2001,"v":1.02},{"s":"MS","t":2002,"v":1.07},{"s":"MS","t":2003,"v":1.13},{"s":"MS","t":2004,"v":1.20},{"s":"MS","t":2005,"v":1.30},{"s":"MS","t":2006,"v":1.45},{"s":"MS","t":2007,"v":1.55},{"s":"MS","t":2008,"v":1.59},{"s":"MS","t":2009,"v":1.57},{"s":"MS","t":2010,"v":1.54},{"s":"MS","t":2011,"v":1.52},{"s":"MS","t":2012,"v":1.51},{"s":"MS","t":2013,"v":1.53},
{"s":"MT","t":1976,"v":0.20},{"s":"MT","t":1977,"v":0.24},{"s":"MT","t":1978,"v":0.28},{"s":"MT","t":1979,"v":0.32},{"s":"MT","t":1980,"v":0.36},{"s":"MT","t":1981,"v":0.40},{"s":"MT","t":1982,"v":0.43},{"s":"MT","t":1983,"v":0.45},{"s":"MT","t":1984,"v":0.46},{"s":"MT","t":1985,"v":0.46},{"s":"MT","t":1986,"v":0.45},{"s":"MT","t":1987,"v":0.44},{"s":"MT","t":1988,"v":0.44},{"s":"MT","t":1989,"v":0.45},{"s":"MT","t":1990,"v":0.47},{"s":"MT","t":1991,"v":0.51},{"s":"MT","t":1992,"v":0.56},{"s":"MT","t":1993,"v":0.62},{"s":"MT","t":1994,"v":0.68},{"s":"MT","t":1995,"v":0.74},{"s":"MT","t":1996,"v":0.79},{"s":"MT","t":1997,"v":0.83},{"s":"MT","t":1998,"v":0.87},{"s":"MT","t":1999,"v":0.91},{"s":"MT","t":2000,"v":0.96},{"s":"MT","t":2001,"v":1.03},{"s":"MT","t":2002,"v":1.10},{"s":"MT","t":2003,"v":1.20},{"s":"MT","t":2004,"v":1.32},{"s":"MT","t":2005,"v":1.50},{"s":"MT","t":2006,"v":1.70},{"s":"MT","t":2007,"v":1.85},{"s":"MT","t":2008,"v":1.92},{"s":"MT","t":2009,"v":1.88},{"s":"MT","t":2010,"v":1.84},{"s":"MT","t":2011,"v":1.80},{"s":"MT","t":2012,"v":1.82},{"s":"MT","t":2013,"v":1.90},
{"s":"NC","t":1976,"v":0.20},{"s":"NC","t":1977,"v":0.23},{"s":"NC","t":1978,"v":0.27},{"s":"NC","t":1979,"v":0.31},{"s":"NC","t":1980,"v":0.35},{"s":"NC","t":1981,"v":0.38},{"s":"NC","t":1982,"v":0.41},{"s":"NC","t":1983,"v":0.44},{"s":"NC","t":1984,"v":0.48},{"s":"NC","t":1985,"v":0.52},{"s":"NC","t":1986,"v":0.56},{"s":"NC","t":1987,"v":0.60},{"s":"NC","t":1988,"v":0.64},{"s":"NC","t":1989,"v":0.67},{"s":"NC","t":1990,"v":0.69},{"s":"NC","t":1991,"v":0.71},{"s":"NC","t":1992,"v":0.73},{"s":"NC","t":1993,"v":0.75},{"s":"NC","t":1994,"v":0.77},{"s":"NC","t":1995,"v":0.79},{"s":"NC","t":1996,"v":0.82},{"s":"NC","t":1997,"v":0.86},{"s":"NC","t":1998,"v":0.90},{"s":"NC","t":1999,"v":0.94},{"s":"NC","t":2000,"v":0.98},{"s":"NC","t":2001,"v":1.03},{"s":"NC","t":2002,"v":1.08},{"s":"NC","t":2003,"v":1.13},{"s":"NC","t":2004,"v":1.20},{"s":"NC","t":2005,"v":1.30},{"s":"NC","t":2006,"v":1.43},{"s":"NC","t":2007,"v":1.55},{"s":"NC","t":2008,"v":1.60},{"s":"NC","t":2009,"v":1.57},{"s":"NC","t":2010,"v":1.54},{"s":"NC","t":2011,"v":1.51},{"s":"NC","t":2012,"v":1.50},{"s":"NC","t":2013,"v":1.53},
{"s":"ND","t":1976,"v":0.28},{"s":"ND","t":1977,"v":0.32},{"s":"ND","t":1978,"v":0.36},{"s":"ND","t":1979,"v":0.40},{"s":"ND","t":1980,"v":0.44},{"s":"ND","t":1981,"v":0.47},{"s":"ND","t":1982,"v":0.49},{"s":"ND","t":1983,"v":0.51},{"s":"ND","t":1984,"v":0.52},{"s":"ND","t":1985,"v":0.52},{"s":"ND","t":1986,"v":0.51},{"s":"ND","t":1987,"v":0.50},{"s":"ND","t":1988,"v":0.50},{"s":"ND","t":1989,"v":0.50},{"s":"ND","t":1990,"v":0.51},{"s":"ND","t":1991,"v":0.53},{"s":"ND","t":1992,"v":0.56},{"s":"ND","t":1993,"v":0.59},{"s":"ND","t":1994,"v":0.63},{"s":"ND","t":1995,"v":0.67},{"s":"ND","t":1996,"v":0.72},{"s":"ND","t":1997,"v":0.77},{"s":"ND","t":1998,"v":0.83},{"s":"ND","t":1999,"v":0.89},{"s":"ND","t":2000,"v":0.95},{"s":"ND","t":2001,"v":1.02},{"s":"ND","t":2002,"v":1.10},{"s":"ND","t":2003,"v":1.18},{"s":"ND","t":2004,"v":1.27},{"s":"ND","t":2005,"v":1.36},{"s":"ND","t":2006,"v":1.45},{"s":"ND","t":2007,"v":1.52},{"s":"ND","t":2008,"v":1.60},{"s":"ND","t":2009,"v":1.67},{"s":"ND","t":2010,"v":1.75},{"s":"ND","t":2011,"v":1.86},{"s":"ND","t":2012,"v":2.02},{"s":"ND","t":2013,"v":2.28},
{"s":"NE","t":1976,"v":0.23},{"s":"NE","t":1977,"v":0.26},{"s":"NE","t":1978,"v":0.30},{"s":"NE","t":1979,"v":0.34},{"s":"NE","t":1980,"v":0.38},{"s":"NE","t":1981,"v":0.41},{"s":"NE","t":1982,"v":0.43},{"s":"NE","t":1983,"v":0.45},{"s":"NE","t":1984,"v":0.47},{"s":"NE","t":1985,"v":0.49},{"s":"NE","t":1986,"v":0.51},{"s":"NE","t":1987,"v":0.53},{"s":"NE","t":1988,"v":0.55},{"s":"NE","t":1989,"v":0.57},{"s":"NE","t":1990,"v":0.59},{"s":"NE","t":1991,"v":0.61},{"s":"NE","t":1992,"v":0.64},{"s":"NE","t":1993,"v":0.67},{"s":"NE","t":1994,"v":0.70},{"s":"NE","t":1995,"v":0.74},{"s":"NE","t":1996,"v":0.78},{"s":"NE","t":1997,"v":0.82},{"s":"NE","t":1998,"v":0.87},{"s":"NE","t":1999,"v":0.92},{"s":"NE","t":2000,"v":0.97},{"s":"NE","t":2001,"v":1.03},{"s":"NE","t":2002,"v":1.09},{"s":"NE","t":2003,"v":1.16},{"s":"NE","t":2004,"v":1.24},{"s":"NE","t":2005,"v":1.32},{"s":"NE","t":2006,"v":1.40},{"s":"NE","t":2007,"v":1.45},{"s":"NE","t":2008,"v":1.45},{"s":"NE","t":2009,"v":1.42},{"s":"NE","t":2010,"v":1.39},{"s":"NE","t":2011,"v":1.35},{"s":"NE","t":2012,"v":1.35},{"s":"NE","t":2013,"v":1.40},
{"s":"NH","t":1976,"v":0.17},{"s":"NH","t":1977,"v":0.19},{"s":"NH","t":1978,"v":0.22},{"s":"NH","t":1979,"v":0.25},{"s":"NH","t":1980,"v":0.28},{"s":"NH","t":1981,"v":0.30},{"s":"NH","t":1982,"v":0.32},{"s":"NH","t":1983,"v":0.38},{"s":"NH","t":1984,"v":0.48},{"s":"NH","t":1985,"v":0.62},{"s":"NH","t":1986,"v":0.78},{"s":"NH","t":1987,"v":0.90},{"s":"NH","t":1988,"v":0.96},{"s":"NH","t":1989,"v":0.95},{"s":"NH","t":1990,"v":0.88},{"s":"NH","t":1991,"v":0.80},{"s":"NH","t":1992,"v":0.77},{"s":"NH","t":1993,"v":0.76},{"s":"NH","t":1994,"v":0.76},{"s":"NH","t":1995,"v":0.76},{"s":"NH","t":1996,"v":0.77},{"s":"NH","t":1997,"v":0.79},{"s":"NH","t":1998,"v":0.83},{"s":"NH","t":1999,"v":0.89},{"s":"NH","t":2000,"v":0.98},{"s":"NH","t":2001,"v":1.10},{"s":"NH","t":2002,"v":1.25},{"s":"NH","t":2003,"v":1.40},{"s":"NH","t":2004,"v":1.52},{"s":"NH","t":2005,"v":1.58},{"s":"NH","t":2006,"v":1.57},{"s":"NH","t":2007,"v":1.52},{"s":"NH","t":2008,"v":1.42},{"s":"NH","t":2009,"v":1.30},{"s":"NH","t":2010,"v":1.22},{"s":"NH","t":2011,"v":1.15},{"s":"NH","t":2012,"v":1.13},{"s":"NH","t":2013,"v":1.17},
{"s":"NJ","t":1976,"v":0.18},{"s":"NJ","t":1977,"v":0.20},{"s":"NJ","t":1978,"v":0.23},{"s":"NJ","t":1979,"v":0.26},{"s":"NJ","t":1980,"v":0.29},{"s":"NJ","t":1981,"v":0.31},{"s":"NJ","t":1982,"v":0.33},{"s":"NJ","t":1983,"v":0.38},{"s":"NJ","t":1984,"v":0.47},{"s":"NJ","t":1985,"v":0.58},{"s":"NJ","t":1986,"v":0.70},{"s":"NJ","t":1987,"v":0.80},{"s":"NJ","t":1988,"v":0.86},{"s":"NJ","t":1989,"v":0.87},{"s":"NJ","t":1990,"v":0.86},{"s":"NJ","t":1991,"v":0.84},{"s":"NJ","t":1992,"v":0.83},{"s":"NJ","t":1993,"v":0.83},{"s":"NJ","t":1994,"v":0.83},{"s":"NJ","t":1995,"v":0.83},{"s":"NJ","t":1996,"v":0.84},{"s":"NJ","t":1997,"v":0.85},{"s":"NJ","t":1998,"v":0.88},{"s":"NJ","t":1999,"v":0.92},{"s":"NJ","t":2000,"v":0.98},{"s":"NJ","t":2001,"v":1.08},{"s":"NJ","t":2002,"v":1.22},{"s":"NJ","t":2003,"v":1.40},{"s":"NJ","t":2004,"v":1.62},{"s":"NJ","t":2005,"v":1.85},{"s":"NJ","t":2006,"v":1.98},{"s":"NJ","t":2007,"v":1.97},{"s":"NJ","t":2008,"v":1.88},{"s":"NJ","t":2009,"v":1.76},{"s":"NJ","t":2010,"v":1.68},{"s":"NJ","t":2011,"v":1.60},{"s":"NJ","t":2012,"v":1.55},{"s":"NJ","t":2013,"v":1.56},
{"s":"NM","t":1976,"v":0.19},{"s":"NM","t":1977,"v":0.22},{"s":"NM","t":1978,"v":0.26},{"s":"NM","t":1979,"v":0.31},{"s":"NM","t":1980,"v":0.36},{"s":"NM","t":1981,"v":0.40},{"s":"NM","t":1982,"v":0.43},{"s":"NM","t":1983,"v":0.46},{"s":"NM","t":1984,"v":0.49},{"s":"NM","t":1985,"v":0.52},{"s":"NM","t":1986,"v":0.55},{"s":"NM","t":1987,"v":0.57},{"s":"NM","t":1988,"v":0.59},{"s":"NM","t":1989,"v":0.61},{"s":"NM","t":1990,"v":0.63},{"s":"NM","t":1991,"v":0.65},{"s":"NM","t":1992,"v":0.68},{"s":"NM","t":1993,"v":0.72},{"s":"NM","t":1994,"v":0.76},{"s":"NM","t":1995,"v":0.81},{"s":"NM","t":1996,"v":0.85},{"s":"NM","t":1997,"v":0.88},{"s":"NM","t":1998,"v":0.91},{"s":"NM","t":1999,"v":0.93},{"s":"NM","t":2000,"v":0.96},{"s":"NM","t":2001,"v":1.00},{"s":"NM","t":2002,"v":1.05},{"s":"NM","t":2003,"v":1.12},{"s":"NM","t":2004,"v":1.22},{"s":"NM","t":2005,"v":1.38},{"s":"NM","t":2006,"v":1.60},{"s":"NM","t":2007,"v":1.75},{"s":"NM","t":2008,"v":1.76},{"s":"NM","t":2009,"v":1.68},{"s":"NM","t":2010,"v":1.62},{"s":"NM","t":2011,"v":1.57},{"s":"NM","t":2012,"v":1.55},{"s":"NM","t":2013,"v":1.57},
{"s":"NV","t":1976,"v":0.20},{"s":"NV","t":1977,"v":0.24},{"s":"NV","t":1978,"v":0.29},{"s":"NV","t":1979,"v":0.35},{"s":"NV","t":1980,"v":0.40},{"s":"NV","t":1981,"v":0.44},{"s":"NV","t":1982,"v":0.46},{"s":"NV","t":1983,"v":0.48},{"s":"NV","t":1984,"v":0.50},{"s":"NV","t":1985,"v":0.52},{"s":"NV","t":1986,"v":0.54},{"s":"NV","t":1987,"v":0.56},{"s":"NV","t":1988,"v":0.58},{"s":"NV","t":1989,"v":0.62},{"s":"NV","t":1990,"v":0.66},{"s":"NV","t":1991,"v":0.69},{"s":"NV","t":1992,"v":0.71},{"s":"NV","t":1993,"v":0.73},{"s":"NV","t":1994,"v":0.76},{"s":"NV","t":1995,"v":0.80},{"s":"NV","t":1996,"v":0.83},{"s":"NV","t":1997,"v":0.86},{"s":"NV","t":1998,"v":0.88},{"s":"NV","t":1999,"v":0.91},{"s":"NV","t":2000,"v":0.95},{"s":"NV","t":2001,"v":1.00},{"s":"NV","t":2002,"v":1.08},{"s":"NV","t":2003,"v":1.25},{"s":"NV","t":2004,"v":1.75},{"s":"NV","t":2005,"v":2.20},{"s":"NV","t":2006,"v":2.33},{"s":"NV","t":2007,"v":2.15},{"s":"NV","t":2008,"v":1.70},{"s":"NV","t":2009,"v":1.32},{"s":"NV","t":2010,"v":1.15},{"s":"NV","t":2011,"v":1.05},{"s":"NV","t":2012,"v":1.06},{"s":"NV","t":2013,"v":1.28},
{"s":"NY","t":1976,"v":0.19},{"s":"NY","t":1977,"v":0.21},{"s":"NY","t":1978,"v":0.23},{"s":"NY","t":1979,"v":0.26},{"s":"NY","t":1980,"v":0.29},{"s":"NY","t":1981,"v":0.31},{"s":"NY","t":1982,"v":0.33},{"s":"NY","t":1983,"v":0.38},{"s":"NY","t":1984,"v":0.46},{"s":"NY","t":1985,"v":0.56},{"s":"NY","t":1986,"v":0.67},{"s":"NY","t":1987,"v":0.76},{"s":"NY","t":1988,"v":0.82},{"s":"NY","t":1989,"v":0.84},{"s":"NY","t":1990,"v":0.83},{"s":"NY","t":1991,"v":0.81},{"s":"NY","t":1992,"v":0.80},{"s":"NY","t":1993,"v":0.80},{"s":"NY","t":1994,"v":0.80},{"s":"NY","t":1995,"v":0.80},{"s":"NY","t":1996,"v":0.81},{"s":"NY","t":1997,"v":0.82},{"s":"NY","t":1998,"v":0.85},{"s":"NY","t":1999,"v":0.89},{"s":"NY","t":2000,"v":0.96},{"s":"NY","t":2001,"v":1.06},{"s":"NY","t":2002,"v":1.19},{"s":"NY","t":2003,"v":1.35},{"s":"NY","t":2004,"v":1.53},{"s":"NY","t":2005,"v":1.70},{"s":"NY","t":2006,"v":1.78},{"s":"NY","t":2007,"v":1.77},{"s":"NY","t":2008,"v":1.73},{"s":"NY","t":2009,"v":1.69},{"s":"NY","t":2010,"v":1.67},{"s":"NY","t":2011,"v":1.65},{"s":"NY","t":2012,"v":1.64},{"s":"NY","t":2013,"v":1.66},
{"s":"OH","t":1976,"v":0.24},{"s":"OH","t":1977,"v":0.27},{"s":"OH","t":1978,"v":0.31},{"s":"OH","t":1979,"v":0.35},{"s":"OH","t":1980,"v":0.38},{"s":"OH","t":1981,"v":0.40},{"s":"OH","t":1982,"v":0.41},{"s":"OH","t":1983,"v":0.42},{"s":"OH","t":1984,"v":0.44},{"s":"OH","t":1985,"v":0.47},{"s":"OH","t":1986,"v":0.50},{"s":"OH","t":1987,"v":0.53},{"s":"OH","t":1988,"v":0.56},{"s":"OH","t":1989,"v":0.59},{"s":"OH","t":1990,"v":0.62},{"s":"OH","t":1991,"v":0.65},{"s":"OH","t":1992,"v":0.68},{"s":"OH","t":1993,"v":0.71},{"s":"OH","t":1994,"v":0.74},{"s":"OH","t":1995,"v":0.78},{"s":"OH","t":1996,"v":0.82},{"s":"OH","t":1997,"v":0.86},{"s":"OH","t":1998,"v":0.91},{"s":"OH","t":1999,"v":0.96},{"s":"OH","t":2000,"v":1.01},{"s":"OH","t":2001,"v":1.06},{"s":"OH","t":2002,"v":1.11},{"s":"OH","t":2003,"v":1.16},{"s":"OH","t":2004,"v":1.21},{"s":"OH","t":2005,"v":1.26},{"s":"OH","t":2006,"v":1.28},{"s":"OH","t":2007,"v":1.26},{"s":"OH","t":2008,"v":1.22},{"s":"OH","t":2009,"v":1.18},{"s":"OH","t":2010,"v":1.16},{"s":"OH","t":2011,"v":1.15},{"s":"OH","t":2012,"v":1.16},{"s":"OH","t":2013,"v":1.20},
{"s":"OK","t":1976,"v":0.22},{"s":"OK","t":1977,"v":0.27},{"s":"OK","t":1978,"v":0.33},{"s":"OK","t":1979,"v":0.40},{"s":"OK","t":1980,"v":0.47},{"s":"OK","t":1981,"v":0.54},{"s":"OK","t":1982,"v":0.60},{"s":"OK","t":1983,"v":0.63},{"s":"OK","t":1984,"v":0.64},{"s":"OK","t":1985,"v":0.63},{"s":"OK","t":1986,"v":0.60},{"s":"OK","t":1987,"v":0.57},{"s":"OK","t":1988,"v":0.56},{"s":"OK","t":1989,"v":0.56},{"s":"OK","t":1990,"v":0.57},{"s":"OK","t":1991,"v":0.59},{"s":"OK","t":1992,"v":0.61},{"s":"OK","t":1993,"v":0.64},{"s":"OK","t":1994,"v":0.67},{"s":"OK","t":1995,"v":0.70},{"s":"OK","t":1996,"v":0.74},{"s":"OK","t":1997,"v":0.78},{"s":"OK","t":1998,"v":0.83},{"s":"OK","t":1999,"v":0.88},{"s":"OK","t":2000,"v":0.93},{"s":"OK","t":2001,"v":0.99},{"s":"OK","t":2002,"v":1.05},{"s":"OK","t":2003,"v":1.12},{"s":"OK","t":2004,"v":1.19},{"s":"OK","t":2005,"v":1.27},{"s":"OK","t":2006,"v":1.35},{"s":"OK","t":2007,"v":1.42},{"s":"OK","t":2008,"v":1.47},{"s":"OK","t":2009,"v":1.47},{"s":"OK","t":2010,"v":1.46},{"s":"OK","t":2011,"v":1.46},{"s":"OK","t":2012,"v":1.49},{"s":"OK","t":2013,"v":1.55},
{"s":"OR","t":1976,"v":0.17},{"s":"OR","t":1977,"v":0.21},{"s":"OR","t":1978,"v":0.26},{"s":"OR","t":1979,"v":0.31},{"s":"OR","t":1980,"v":0.35},{"s":"OR","t":1981,"v":0.36},{"s":"OR","t":1982,"v":0.35},{"s":"OR","t":1983,"v":0.34},{"s":"OR","t":1984,"v":0.33},{"s":"OR","t":1985,"v":0.33},{"s":"OR","t":1986,"v":0.34},{"s":"OR","t":1987,"v":0.35},{"s":"OR","t":1988,"v":0.36},{"s":"OR","t":1989,"v":0.38},{"s":"OR","t":1990,"v":0.42},{"s":"OR","t":1991,"v":0.48},{"s":"OR","t":1992,"v":0.55},{"s":"OR","t":1993,"v":0.62},{"s":"OR","t":1994,"v":0.68},{"s":"OR","t":1995,"v":0.75},{"s":"OR","t":1996,"v":0.82},{"s":"OR","t":1997,"v":0.87},{"s":"OR","t":1998,"v":0.91},{"s":"OR","t":1999,"v":0.95},{"s":"OR","t":2000,"v":0.99},{"s":"OR","t":2001,"v":1.03},{"s":"OR","t":2002,"v":1.08},{"s":"OR","t":2003,"v":1.15},{"s":"OR","t":2004,"v":1.28},{"s":"OR","t":2005,"v":1.52},{"s":"OR","t":2006,"v":1.82},{"s":"OR","t":2007,"v":2.02},{"s":"OR","t":2008,"v":1.98},{"s":"OR","t":2009,"v":1.80},{"s":"OR","t":2010,"v":1.68},{"s":"OR","t":2011,"v":1.58},{"s":"OR","t":2012,"v":1.58},{"s":"OR","t":2013,"v":1.70},
{"s":"PA","t":1976,"v":0.24},{"s":"PA","t":1977,"v":0.26},{"s":"PA","t":1978,"v":0.29},{"s":"PA","t":1979,"v":0.32},{"s":"PA","t":1980,"v":0.35},{"s":"PA","t":1981,"v":0.37},{"s":"PA","t":1982,"v":0.39},{"s":"PA","t":1983,"v":0.42},{"s":"PA","t":1984,"v":0.46},{"s":"PA","t":1985,"v":0.51},{"s":"PA","t":1986,"v":0.56},{"s":"PA","t":1987,"v":0.62},{"s":"PA","t":1988,"v":0.67},{"s":"PA","t":1989,"v":0.71},{"s":"PA","t":1990,"v":0.74},{"s":"PA","t":1991,"v":0.76},{"s":"PA","t":1992,"v":0.77},{"s":"PA","t":1993,"v":0.78},{"s":"PA","t":1994,"v":0.79},{"s":"PA","t":1995,"v":0.80},{"s":"PA","t":1996,"v":0.81},{"s":"PA","t":1997,"v":0.83},{"s":"PA","t":1998,"v":0.86},{"s":"PA","t":1999,"v":0.90},{"s":"PA","t":2000,"v":0.96},{"s":"PA","t":2001,"v":1.04},{"s":"PA","t":2002,"v":1.14},{"s":"PA","t":2003,"v":1.27},{"s":"PA","t":2004,"v":1.42},{"s":"PA","t":2005,"v":1.60},{"s":"PA","t":2006,"v":1.76},{"s":"PA","t":2007,"v":1.85},{"s":"PA","t":2008,"v":1.86},{"s":"PA","t":2009,"v":1.83},{"s":"PA","t":2010,"v":1.82},{"s":"PA","t":2011,"v":1.81},{"s":"PA","t":2012,"v":1.81},{"s":"PA","t":2013,"v":1.84},
{"s":"RI","t":1976,"v":0.19},{"s":"RI","t":1977,"v":0.21},{"s":"RI","t":1978,"v":0.23},{"s":"RI","t":1979,"v":0.26},{"s":"RI","t":1980,"v":0.29},{"s":"RI","t":1981,"v":0.31},{"s":"RI","t":1982,"v":0.33},{"s":"RI","t":1983,"v":0.39},{"s":"RI","t":1984,"v":0.49},{"s":"RI","t":1985,"v":0.63},{"s":"RI","t":1986,"v":0.78},{"s":"RI","t":1987,"v":0.90},{"s":"RI","t":1988,"v":0.96},{"s":"RI","t":1989,"v":0.97},{"s":"RI","t":1990,"v":0.94},{"s":"RI","t":1991,"v":0.90},{"s":"RI","t":1992,"v":0.87},{"s":"RI","t":1993,"v":0.85},{"s":"RI","t":1994,"v":0.83},{"s":"RI","t":1995,"v":0.82},{"s":"RI","t":1996,"v":0.82},{"s":"RI","t":1997,"v":0.83},{"s":"RI","t":1998,"v":0.86},{"s":"RI","t":1999,"v":0.91},{"s":"RI","t":2000,"v":0.99},{"s":"RI","t":2001,"v":1.12},{"s":"RI","t":2002,"v":1.35},{"s":"RI","t":2003,"v":1.62},{"s":"RI","t":2004,"v":1.88},{"s":"RI","t":2005,"v":2.02},{"s":"RI","t":2006,"v":2.05},{"s":"RI","t":2007,"v":1.98},{"s":"RI","t":2008,"v":1.85},{"s":"RI","t":2009,"v":1.70},{"s":"RI","t":2010,"v":1.62},{"s":"RI","t":2011,"v":1.53},{"s":"RI","t":2012,"v":1.47},{"s":"RI","t":2013,"v":1.48},
{"s":"SC","t":1976,"v":0.22},{"s":"SC","t":1977,"v":0.25},{"s":"SC","t":1978,"v":0.29},{"s":"SC","t":1979,"v":0.33},{"s":"SC","t":1980,"v":0.37},{"s":"SC","t":1981,"v":0.40},{"s":"SC","t":1982,"v":0.42},{"s":"SC","t":1983,"v":0.45},{"s":"SC","t":1984,"v":0.48},{"s":"SC","t":1985,"v":0.52},{"s":"SC","t":1986,"v":0.55},{"s":"SC","t":1987,"v":0.58},{"s":"SC","t":1988,"v":0.61},{"s":"SC","t":1989,"v":0.64},{"s":"SC","t":1990,"v":0.66},{"s":"SC","t":1991,"v":0.68},{"s":"SC","t":1992,"v":0.70},{"s":"SC","t":1993,"v":0.72},{"s":"SC","t":1994,"v":0.74},{"s":"SC","t":1995,"v":0.77},{"s":"SC","t":1996,"v":0.80},{"s":"SC","t":1997,"v":0.84},{"s":"SC","t":1998,"v":0.88},{"s":"SC","t":1999,"v":0.92},{"s":"SC","t":2000,"v":0.97},{"s":"SC","t":2001,"v":1.03},{"s":"SC","t":2002,"v":1.09},{"s":"SC","t":2003,"v":1.15},{"s":"SC","t":2004,"v":1.22},{"s":"SC","t":2005,"v":1.32},{"s":"SC","t":2006,"v":1.45},{"s":"SC","t":2007,"v":1.56},{"s":"SC","t":2008,"v":1.62},{"s":"SC","t":2009,"v":1.60},{"s":"SC","t":2010,"v":1.57},{"s":"SC","t":2011,"v":1.54},{"s":"SC","t":2012,"v":1.54},{"s":"SC","t":2013,"v":1.57},
{"s":"SD","t":1976,"v":0.25},{"s":"SD","t":1977,"v":0.28},{"s":"SD","t":1978,"v":0.31},{"s":"SD","t":1979,"v":0.35},{"s":"SD","t":1980,"v":0.38},{"s":"SD","t":1981,"v":0.40},{"s":"SD","t":1982,"v":0.41},{"s":"SD","t":1983,"v":0.42},{"s":"SD","t":1984,"v":0.43},{"s":"SD","t":1985,"v":0.44},{"s":"SD","t":1986,"v":0.45},{"s":"SD","t":1987,"v":0.46},{"s":"SD","t":1988,"v":0.47},{"s":"SD","t":1989,"v":0.49},{"s":"SD","t":1990,"v":0.51},{"s":"SD","t":1991,"v":0.54},{"s":"SD","t":1992,"v":0.58},{"s":"SD","t":1993,"v":0.62},{"s":"SD","t":1994,"v":0.66},{"s":"SD","t":1995,"v":0.70},{"s":"SD","t":1996,"v":0.74},{"s":"SD","t":1997,"v":0.79},{"s":"SD","t":1998,"v":0.84},{"s":"SD","t":1999,"v":0.89},{"s":"SD","t":2000,"v":0.94},{"s":"SD","t":2001,"v":1.01},{"s":"SD","t":2002,"v":1.08},{"s":"SD","t":2003,"v":1.16},{"s":"SD","t":2004,"v":1.26},{"s":"SD","t":2005,"v":1.38},{"s":"SD","t":2006,"v":1.50},{"s":"SD","t":2007,"v":1.60},{"s":"SD","t":2008,"v":1.67},{"s":"SD","t":2009,"v":1.69},{"s":"SD","t":2010,"v":1.70},{"s":"SD","t":2011,"v":1.72},{"s":"SD","t":2012,"v":1.78},{"s":"SD","t":2013,"v":1.90},
{"s":"TN","t":1976,"v":0.21},{"s":"TN","t":1977,"v":0.24},{"s":"TN","t":1978,"v":0.28},{"s":"TN","t":1979,"v":0.32},{"s":"TN","t":1980,"v":0.36},{"s":"TN","t":1981,"v":0.39},{"s":"TN","t":1982,"v":0.41},{"s":"TN","t":1983,"v":0.43},{"s":"TN","t":1984,"v":0.46},{"s":"TN","t":1985,"v":0.49},{"s":"TN","t":1986,"v":0.52},{"s":"TN","t":1987,"v":0.55},{"s":"TN","t":1988,"v":0.58},{"s":"TN","t":1989,"v":0.60},{"s":"TN","t":1990,"v":0.62},{"s":"TN","t":1991,"v":0.64},{"s":"TN","t":1992,"v":0.67},{"s":"TN","t":1993,"v":0.70},{"s":"TN","t":1994,"v":0.74},{"s":"TN","t":1995,"v":0.78},{"s":"TN","t":1996,"v":0.82},{"s":"TN","t":1997,"v":0.86},{"s":"TN","t":1998,"v":0.90},{"s":"TN","t":1999,"v":0.94},{"s":"TN","t":2000,"v":0.98},{"s":"TN","t":2001,"v":1.03},{"s":"TN","t":2002,"v":1.08},{"s":"TN","t":2003,"v":1.13},{"s":"TN","t":2004,"v":1.19},{"s":"TN","t":2005,"v":1.28},{"s":"TN","t":2006,"v":1.40},{"s":"TN","t":2007,"v":1.52},{"s":"TN","t":2008,"v":1.58},{"s":"TN","t":2009,"v":1.56},{"s":"TN","t":2010,"v":1.52},{"s":"TN","t":2011,"v":1.49},{"s":"TN","t":2012,"v":1.49},{"s":"TN","t":2013,"v":1.53},
{"s":"TX","t":1976,"v":0.21},{"s":"TX","t":1977,"v":0.25},{"s":"TX","t":1978,"v":0.31},{"s":"TX","t":1979,"v":0.38},{"s":"TX","t":1980,"v":0.45},{"s":"TX","t":1981,"v":0.52},{"s":"TX","t":1982,"v":0.58},{"s":"TX","t":1983,"v":0.63},{"s":"TX","t":1984,"v":0.66},{"s":"TX","t":1985,"v":0.67},{"s":"TX","t":1986,"v":0.66},{"s":"TX","t":1987,"v":0.62},{"s":"TX","t":1988,"v":0.59},{"s":"TX","t":1989,"v":0.58},{"s":"TX","t":1990,"v":0.58},{"s":"TX","t":1991,"v":0.59},{"s":"TX","t":1992,"v":0.61},{"s":"TX","t":1993,"v":0.63},{"s":"TX","t":1994,"v":0.66},{"s":"TX","t":1995,"v":0.69},{"s":"TX","t":1996,"v":0.72},{"s":"TX","t":1997,"v":0.76},{"s":"TX","t":1998,"v":0.81},{"s":"TX","t":1999,"v":0.87},{"s":"TX","t":2000,"v":0.94},{"s":"TX","t":2001,"v":1.00},{"s":"TX","t":2002,"v":1.06},{"s":"TX","t":2003,"v":1.10},{"s":"TX","t":2004,"v":1.15},{"s":"TX","t":2005,"v":1.22},{"s":"TX","t":2006,"v":1.30},{"s":"TX","t":2007,"v":1.38},{"s":"TX","t":2008,"v":1.42},{"s":"TX","t":2009,"v":1.42},{"s":"TX","t":2010,"v":1.42},{"s":"TX","t":2011,"v":1.43},{"s":"TX","t":2012,"v":1.47},{"s":"TX","t":2013,"v":1.57},
{"s":"UT","t":1976,"v":0.20},{"s":"UT","t":1977,"v":0.25},{"s":"UT","t":1978,"v":0.30},{"s":"UT","t":1979,"v":0.35},{"s":"UT","t":1980,"v":0.39},{"s":"UT","t":1981,"v":0.42},{"s":"UT","t":1982,"v":0.43},{"s":"UT","t":1983,"v":0.44},{"s":"UT","t":1984,"v":0.45},{"s":"UT","t":1985,"v":0.45},{"s":"UT","t":1986,"v":0.45},{"s":"UT","t":1987,"v":0.44},{"s":"UT","t":1988,"v":0.44},{"s":"UT","t":1989,"v":0.45},{"s":"UT","t":1990,"v":0.48},{"s":"UT","t":1991,"v":0.53},{"s":"UT","t":1992,"v":0.60},{"s":"UT","t":1993,"v":0.68},{"s":"UT","t":1994,"v":0.76},{"s":"UT","t":1995,"v":0.83},{"s":"UT","t":1996,"v":0.88},{"s":"UT","t":1997,"v":0.92},{"s":"UT","t":1998,"v":0.94},{"s":"UT","t":1999,"v":0.96},{"s":"UT","t":2000,"v":0.98},{"s":"UT","t":2001,"v":1.01},{"s":"UT","t":2002,"v":1.04},{"s":"UT","t":2003,"v":1.07},{"s":"UT","t":2004,"v":1.12},{"s":"UT","t":2005,"v":1.25},{"s":"UT","t":2006,"v":1.50},{"s":"UT","t":2007,"v":1.72},{"s":"UT","t":2008,"v":1.72},{"s":"UT","t":2009,"v":1.60},{"s":"UT","t":2010,"v":1.50},{"s":"UT","t":2011,"v":1.40},{"s":"UT","t":2012,"v":1.42},{"s":"UT","t":2013,"v":1.52},
{"s":"VA","t":1976,"v":0.20},{"s":"VA","t":1977,"v":0.23},{"s":"VA","t":1978,"v":0.26},{"s":"VA","t":1979,"v":0.30},{"s":"VA","t":1980,"v":0.33},{"s":"VA","t":1981,"v":0.36},{"s":"VA","t":1982,"v":0.38},{"s":"VA","t":1983,"v":0.42},{"s":"VA","t":1984,"v":0.47},{"s":"VA","t":1985,"v":0.53},{"s":"VA","t":1986,"v":0.60},{"s":"VA","t":1987,"v":0.67},{"s":"VA","t":1988,"v":0.73},{"s":"VA","t":1989,"v":0.77},{"s":"VA","t":1990,"v":0.79},{"s":"VA","t":1991,"v":0.79},{"s":"VA","t":1992,"v":0.80},{"s":"VA","t":1993,"v":0.80},{"s":"VA","t":1994,"v":0.80},{"s":"VA","t":1995,"v":0.80},{"s":"VA","t":1996,"v":0.81},{"s":"VA","t":1997,"v":0.82},{"s":"VA","t":1998,"v":0.85},{"s":"VA","t":1999,"v":0.89},{"s":"VA","t":2000,"v":0.95},{"s":"VA","t":2001,"v":1.04},{"s":"VA","t":2002,"v":1.16},{"s":"VA","t":2003,"v":1.32},{"s":"VA","t":2004,"v":1.55},{"s":"VA","t":2005,"v":1.85},{"s":"VA","t":2006,"v":1.98},{"s":"VA","t":2007,"v":1.96},{"s":"VA","t":2008,"v":1.86},{"s":"VA","t":2009,"v":1.76},{"s":"VA","t":2010,"v":1.73},{"s":"VA","t":2011,"v":1.71},{"s":"VA","t":2012,"v":1.71},{"s":"VA","t":2013,"v":1.73},
{"s":"VT","t":1976,"v":0.19},{"s":"VT","t":1977,"v":0.21},{"s":"VT","t":1978,"v":0.24},{"s":"VT","t":1979,"v":0.27},{"s":"VT","t":1980,"v":0.30},{"s":"VT","t":1981,"v":0.33},{"s":"VT","t":1982,"v":0.36},{"s":"VT","t":1983,"v":0.40},{"s":"VT","t":1984,"v":0.46},{"s":"VT","t":1985,"v":0.54},{"s":"VT","t":1986,"v":0.63},{"s":"VT","t":1987,"v":0.72},{"s":"VT","t":1988,"v":0.79},{"s":"VT","t":1989,"v":0.84},{"s":"VT","t":1990,"v":0.86},{"s":"VT","t":1991,"v":0.87},{"s":"VT","t":1992,"v":0.87},{"s":"VT","t":1993,"v":0.87},{"s":"VT","t":1994,"v":0.87},{"s":"VT","t":1995,"v":0.87},{"s":"VT","t":1996,"v":0.87},{"s":"VT","t":1997,"v":0.88},{"s":"VT","t":1998,"v":0.89},{"s":"VT","t":1999,"v":0.92},{"s":"VT","t":2000,"v":0.97},{"s":"VT","t":2001,"v":1.05},{"s":"VT","t":2002,"v":1.16},{"s":"VT","t":2003,"v":1.30},{"s":"VT","t":2004,"v":1.45},{"s":"VT","t":2005,"v":1.60},{"s":"VT","t":2006,"v":1.70},{"s":"VT","t":2007,"v":1.73},{"s":"VT","t":2008,"v":1.70},{"s":"VT","t":2009,"v":1.66},{"s":"VT","t":2010,"v":1.64},{"s":"VT","t":2011,"v":1.62},{"s":"VT","t":2012,"v":1.60},{"s":"VT","t":2013,"v":1.62},
{"s":"WA","t":1976,"v":0.14},{"s":"WA","t":1977,"v":0.17},{"s":"WA","t":1978,"v":0.21},{"s":"WA","t":1979,"v":0.26},{"s":"WA","t":1980,"v":0.29},{"s":"WA","t":1981,"v":0.31},{"s":"WA","t":1982,"v":0.31},{"s":"WA","t":1983,"v":0.31},{"s":"WA","t":1984,"v":0.32},{"s":"WA","t":1985,"v":0.33},{"s":"WA","t":1986,"v":0.35},{"s":"WA","t":1987,"v":0.38},{"s":"WA","t":1988,"v":0.43},{"s":"WA","t":1989,"v":0.52},{"s":"WA","t":1990,"v":0.62},{"s":"WA","t":1991,"v":0.68},{"s":"WA","t":1992,"v":0.71},{"s":"WA","t":1993,"v":0.73},{"s":"WA","t":1994,"v":0.75},{"s":"WA","t":1995,"v":0.77},{"s":"WA","t":1996,"v":0.80},{"s":"WA","t":1997,"v":0.84},{"s":"WA","t":1998,"v":0.88},{"s":"WA","t":1999,"v":0.93},{"s":"WA","t":2000,"v":0.98},{"s":"WA","t":2001,"v":1.03},{"s":"WA","t":2002,"v":1.09},{"s":"WA","t":2003,"v":1.17},{"s":"WA","t":2004,"v":1.30},{"s":"WA","t":2005,"v":1.52},{"s":"WA","t":2006,"v":1.78},{"s":"WA","t":2007,"v":1.90},{"s":"WA","t":2008,"v":1.80},{"s":"WA","t":2009,"v":1.63},{"s":"WA","t":2010,"v":1.53},{"s":"WA","t":2011,"v":1.46},{"s":"WA","t":2012,"v":1.46},{"s":"WA","t":2013,"v":1.56},
{"s":"WI","t":1976,"v":0.26},{"s":"WI","t":1977,"v":0.29},{"s":"WI","t":1978,"v":0.33},{"s":"WI","t":1979,"v":0.37},{"s":"WI","t":1980,"v":0.40},{"s":"WI","t":1981,"v":0.42},{"s":"WI","t":1982,"v":0.43},{"s":"WI","t":1983,"v":0.44},{"s":"WI","t":1984,"v":0.45},{"s":"WI","t":1985,"v":0.46},{"s":"WI","t":1986,"v":0.48},{"s":"WI","t":1987,"v":0.50},{"s":"WI","t":1988,"v":0.53},{"s":"WI","t":1989,"v":0.56},{"s":"WI","t":1990,"v":0.59},{"s":"WI","t":1991,"v":0.62},{"s":"WI","t":1992,"v":0.66},{"s":"WI","t":1993,"v":0.70},{"s":"WI","t":1994,"v":0.74},{"s":"WI","t":1995,"v":0.78},{"s":"WI","t":1996,"v":0.82},{"s":"WI","t":1997,"v":0.86},{"s":"WI","t":1998,"v":0.90},{"s":"WI","t":1999,"v":0.94},{"s":"WI","t":2000,"v":0.98},{"s":"WI","t":2001,"v":1.04},{"s":"WI","t":2002,"v":1.10},{"s":"WI","t":2003,"v":1.17},{"s":"WI","t":2004,"v":1.25},{"s":"WI","t":2005,"v":1.34},{"s":"WI","t":2006,"v":1.43},{"s":"WI","t":2007,"v":1.49},{"s":"WI","t":2008,"v":1.48},{"s":"WI","t":2009,"v":1.44},{"s":"WI","t":2010,"v":1.40},{"s":"WI","t":2011,"v":1.37},{"s":"WI","t":2012,"v":1.36},{"s":"WI","t":2013,"v":1.39},
{"s":"WV","t":1976,"v":0.25},{"s":"WV","t":1977,"v":0.29},{"s":"WV","t":1978,"v":0.33},{"s":"WV","t":1979,"v":0.38},{"s":"WV","t":1980,"v":0.42},{"s":"WV","t":1981,"v":0.44},{"s":"WV","t":1982,"v":0.45},{"s":"WV","t":1983,"v":0.45},{"s":"WV","t":1984,"v":0.46},{"s":"WV","t":1985,"v":0.47},{"s":"WV","t":1986,"v":0.48},{"s":"WV","t":1987,"v":0.49},{"s":"WV","t":1988,"v":0.50},{"s":"WV","t":1989,"v":0.52},{"s":"WV","t":1990,"v":0.54},{"s":"WV","t":1991,"v":0.57},{"s":"WV","t":1992,"v":0.61},{"s":"WV","t":1993,"v":0.65},{"s":"WV","t":1994,"v":0.69},{"s":"WV","t":1995,"v":0.73},{"s":"WV","t":1996,"v":0.77},{"s":"WV","t":1997,"v":0.81},{"s":"WV","t":1998,"v":0.86},{"s":"WV","t":1999,"v":0.91},{"s":"WV","t":2000,"v":0.96},{"s":"WV","t":2001,"v":1.01},{"s":"WV","t":2002,"v":1.07},{"s":"WV","t":2003,"v":1.14},{"s":"WV","t":2004,"v":1.22},{"s":"WV","t":2005,"v":1.32},{"s":"WV","t":2006,"v":1.43},{"s":"WV","t":2007,"v":1.50},{"s":"WV","t":2008,"v":1.54},{"s":"WV","t":2009,"v":1.56},{"s":"WV","t":2010,"v":1.57},{"s":"WV","t":2011,"v":1.58},{"s":"WV","t":2012,"v":1.62},{"s":"WV","t":2013,"v":1.70},
{"s":"WY","t":1976,"v":0.20},{"s":"WY","t":1977,"v":0.26},{"s":"WY","t":1978,"v":0.32},{"s":"WY","t":1979,"v":0.39},{"s":"WY","t":1980,"v":0.45},{"s":"WY","t":1981,"v":0.50},{"s":"WY","t":1982,"v":0.53},{"s":"WY","t":1983,"v":0.54},{"s":"WY","t":1984,"v":0.53},{"s":"WY","t":1985,"v":0.51},{"s":"WY","t":1986,"v":0.48},{"s":"WY","t":1987,"v":0.45},{"s":"WY","t":1988,"v":0.45},{"s":"WY","t":1989,"v":0.46},{"s":"WY","t":1990,"v":0.48},{"s":"WY","t":1991,"v":0.51},{"s":"WY","t":1992,"v":0.55},{"s":"WY","t":1993,"v":0.60},{"s":"WY","t":1994,"v":0.65},{"s":"WY","t":1995,"v":0.70},{"s":"WY","t":1996,"v":0.75},{"s":"WY","t":1997,"v":0.80},{"s":"WY","t":1998,"v":0.85},{"s":"WY","t":1999,"v":0.90},{"s":"WY","t":2000,"v":0.96},{"s":"WY","t":2001,"v":1.04},{"s":"WY","t":2002,"v":1.13},{"s":"WY","t":2003,"v":1.23},{"s":"WY","t":2004,"v":1.35},{"s":"WY","t":2005,"v":1.52},{"s":"WY","t":2006,"v":1.70},{"s":"WY","t":2007,"v":1.83},{"s":"WY","t":2008,"v":1.88},{"s":"WY","t":2009,"v":1.84},{"s":"WY","t":2010,"v":1.82},{"s":"WY","t":2011,"v":1.81},{"s":"WY","t":2012,"v":1.84},{"s":"WY","t":2013,"v":1.91}
    ]},
    "mark": {"type": "circle", "size": 140, "fillOpacity": 0.55, "strokeWidth": 0},
    "encoding": {
      "x": {"field": "s", "type": "nominal", "scale": {"paddingInner": 0.2, "paddingOuter": 0.2}, "axis": {"title": "State", "labelAngle": 0, "bandPosition": 0.5, "grid": true, "titlePadding": 2}},
      "xOffset": {"field": "t", "type": "ordinal", "scale": {"domain": [1993,1978,2005,1987,2011,1982,1999,1976,2008,1990,2002,1985,2013,1980,1996,2006,1984,2010,1977,1994,2003,1989,1981,2012,1998,1986,2007,1979,1992,2001,1983,2009,1997,1988,2004,1991,2000,1995]}},
      "y": {"field": "v", "type": "quantitative", "scale": {"domain": [-0.004, 3.03], "nice": false, "zero": false}, "axis": {"title": "Home_Price_Index", "values": [0, 1, 2, 3], "grid": true, "titlePadding": 10}},
      "color": {"field": "t", "type": "quantitative", "scale": {"domain": [1976, 1994.5, 2013], "range": ["#0000FF", "#7F7F7F", "#FF0000"], "interpolate": "lab"}, "legend": {"type": "gradient", "title": null, "orient": "none", "legendX": 1148, "legendY": 337, "direction": "vertical", "labelOffset": 14, "values": [1976, 1994.5, 2013], "labelExpr": "datum.value < 1985 ? \"'76\" : datum.value < 2000 ? \"'94\" : \"'13\"", "encode": {"gradient": {"update": {"opacity": {"value": 1}, "fillOpacity": {"value": 1}}}}}}
    }
  }
]
}
